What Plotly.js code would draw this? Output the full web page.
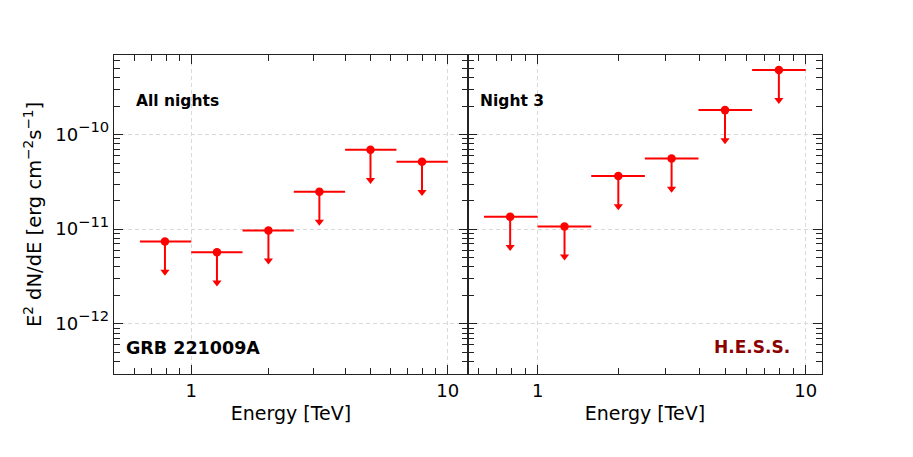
<!DOCTYPE html>
<html>
<head>
<meta charset="utf-8">
<script src="https://cdn.plot.ly/plotly-3.0.1.min.js"></script>
<style>
  html, body { margin: 0; padding: 0; background: #fff; }
  #plot { width: 913px; height: 457px; }
</style>
</head>
<body>
<div id="plot"></div>
<script>
// energy bins [TeV], shared by both panels
const eMid = [0.79, 1.26, 2.0, 3.16, 5.0, 7.94];
const eLo = [0.631, 1.0, 1.585, 2.512, 3.981, 6.31];
const eHi = [1.0, 1.585, 2.512, 3.981, 6.31, 10.0];

// upper limits E^2 dN/dE [erg cm^-2 s^-1]
const ulAll = [7.4e-12, 5.7e-12, 9.7e-12, 2.49e-11, 6.9e-11, 5.15e-11];
const ulNight3 = [1.35e-11, 1.07e-11, 3.64e-11, 5.58e-11, 1.81e-10, 4.81e-10];

const yTickVals = [1e-12, 1e-11, 1e-10];
const yTickText = ['\u221212', '\u221211', '\u221210']
  .map(e => '10<span style="font-size:21px"><sup>' + e + '</sup></span>');
const xTickVals = [1, 10];
const xTickText = ['1', '10'];

const arrowFrac = 0.48;   // arrow head position relative to the limit
const red = '#ff0000';
const font = 'DejaVu Sans, Verdana, sans-serif';

// minor tick positions 2..9 x 10^k
function minorTicks(k0, k1) {
  const out = [];
  for (let k = k0; k <= k1; k++) for (let d = 2; d <= 9; d++) out.push(d * Math.pow(10, k));
  return out;
}

function ulTraces(vals, xa, ya) {
  const tips = vals.map(v => v * arrowFrac);
  return [
    { x: eMid, y: vals, xaxis: xa, yaxis: ya, type: 'scatter', mode: 'markers',
      marker: { color: red, size: 8.5 }, showlegend: false, hoverinfo: 'x+y',
      error_x: { type: 'data', symmetric: false,
        array: eHi.map((h, i) => h - eMid[i]), arrayminus: eLo.map((l, i) => eMid[i] - l),
        color: red, thickness: 2, width: 0 },
      error_y: { type: 'data', symmetric: false, array: vals.map(() => 0),
        arrayminus: vals.map((v, i) => v - tips[i]), color: red, thickness: 2, width: 0 } },
    { x: eMid, y: tips, xaxis: xa, yaxis: ya, type: 'scatter', mode: 'markers',
      marker: { color: red, size: 8, symbol: 'triangle-down' }, showlegend: false, hoverinfo: 'skip' }
  ];
}

const xCommon = {
  type: 'log', tickvals: xTickVals, ticktext: xTickText,
  ticks: 'inside', ticklen: 9, tickwidth: 1, tickcolor: '#222',
  showline: true, linecolor: '#222', linewidth: 1.3, mirror: 'ticks',
  showgrid: true, gridcolor: '#d9d9d9', griddash: '4px,3px', gridwidth: 1,
  zeroline: false, tickfont: { size: 18, color: '#000' },
  minor: { tickvals: minorTicks(-1, 1), ticks: 'inside', ticklen: 6, tickcolor: '#222', showgrid: false },
  title: { text: 'Energy [TeV]', font: { size: 19, color: '#000' }, standoff: 6 }
};
const yCommon = {
  type: 'log', range: [-12.53, -9.16], tickvals: yTickVals, ticktext: yTickText,
  ticks: 'inside', ticklen: 9, tickwidth: 1, tickcolor: '#222',
  showline: true, linecolor: '#222', linewidth: 1.3, mirror: 'ticks',
  showgrid: true, gridcolor: '#d9d9d9', griddash: '4px,3px', gridwidth: 1,
  zeroline: false, tickfont: { size: 18, color: '#000' },
  minor: { tickvals: minorTicks(-13, -9), ticks: 'inside', ticklen: 6, tickcolor: '#222', showgrid: false }
};

const data = [].concat(ulTraces(ulAll, 'x', 'y'), ulTraces(ulNight3, 'x2', 'y2'));

const layout = {
  width: 913, height: 457,
  margin: { l: 114, r: 91, t: 55, b: 83 },
  paper_bgcolor: '#fff', plot_bgcolor: '#fff',
  font: { family: font, color: '#000' },
  xaxis: Object.assign({}, xCommon, { domain: [0, 0.5], anchor: 'y', range: [Math.log10(0.5), Math.log10(12)] }),
  xaxis2: Object.assign({}, xCommon, { domain: [0.5, 1], anchor: 'y2', range: [Math.log10(0.55), Math.log10(11.5)] }),
  yaxis: Object.assign({}, yCommon, { anchor: 'x',
    title: { text: 'E<sup>2</sup> dN/dE [erg cm<sup>\u22122</sup>s<sup>\u22121</sup>]', font: { size: 19.5, color: '#000' }, standoff: 8 } }),
  yaxis2: Object.assign({}, yCommon, { anchor: 'x2', matches: 'y', showticklabels: false }),
  annotations: [
    { text: '<b>All nights</b>', xref: 'paper', yref: 'paper', x: 0.0283, y: 0.856,
      xanchor: 'left', yanchor: 'middle', showarrow: false, font: { size: 15.5, color: '#000' } },
    { text: '<b>Night 3</b>', xref: 'paper', yref: 'paper', x: 0.5141, y: 0.856,
      xanchor: 'left', yanchor: 'middle', showarrow: false, font: { size: 15.5, color: '#000' } },
    { text: '<b>GRB 221009A</b>', xref: 'paper', yref: 'paper', x: 0.0145, y: 0.083,
      xanchor: 'left', yanchor: 'middle', showarrow: false, font: { size: 17.5, color: '#000' } },
    { text: '<b>H.E.S.S.</b>', xref: 'paper', yref: 'paper', x: 0.958, y: 0.086,
      xanchor: 'right', yanchor: 'middle', showarrow: false, font: { size: 17, color: '#8b0000' } }
  ]
};

Plotly.newPlot('plot', data, layout, { displayModeBar: false, staticPlot: true });
</script>
</body>
</html>
